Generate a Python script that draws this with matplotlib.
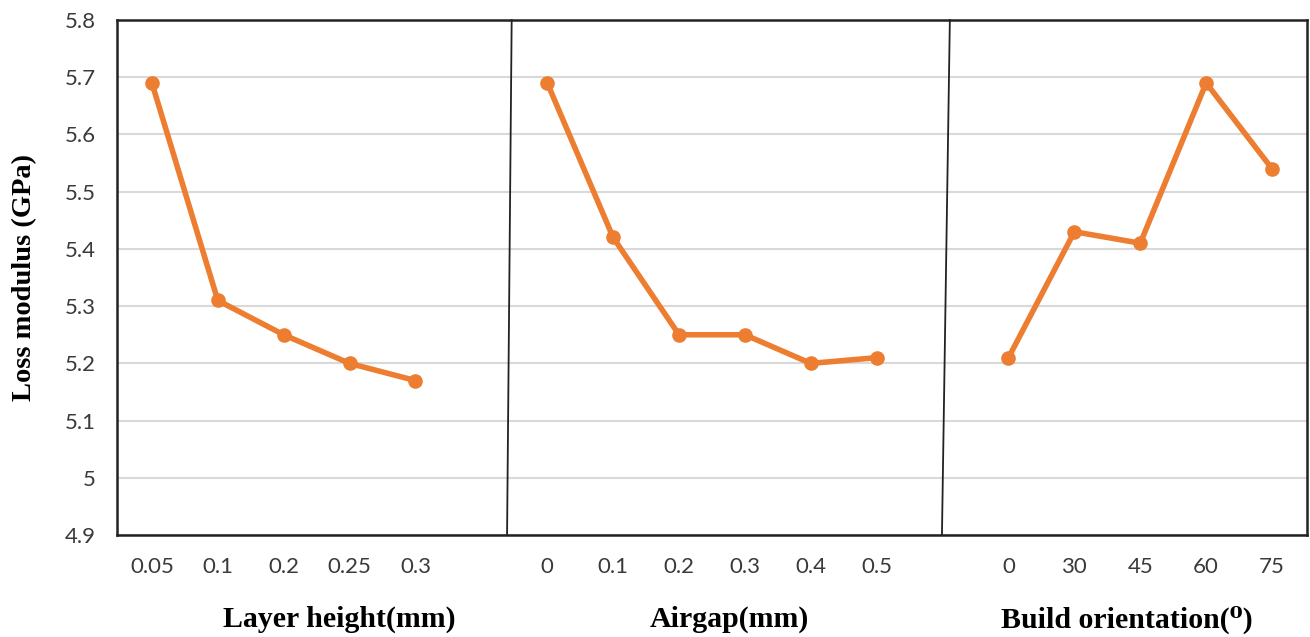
import matplotlib.pyplot as plt
import numpy as np

# factor levels (tick labels) and loss modulus values per factor
layer_height = ["0.05", "0.1", "0.2", "0.25", "0.3"]
layer_vals = [5.69, 5.31, 5.25, 5.20, 5.17]
airgap = ["0", "0.1", "0.2", "0.3", "0.4", "0.5"]
airgap_vals = [5.69, 5.42, 5.25, 5.25, 5.20, 5.21]
orientation = ["0", "30", "45", "60", "75"]
orient_vals = [5.21, 5.43, 5.41, 5.69, 5.54]
group_titles = ["Layer height(mm)", "Airgap(mm)", "Build orientation(\u2070)"]

orange = "#ED7D31"

fig = plt.figure(figsize=(13.1, 6.37), dpi=100)
ax = fig.add_axes([0.0893, 0.160, 0.9084, 0.8086])

groups = [(layer_height, layer_vals), (airgap, airgap_vals), (orientation, orient_vals)]
ticks, labels, starts = [], [], []
pos = 0
for cats, vals in groups:
    x = np.arange(pos, pos + len(cats))
    ax.plot(x, vals, color=orange, lw=4, marker="o", ms=9.5, zorder=3,
            solid_capstyle="round")
    ticks += list(x)
    labels += cats
    starts.append(pos)
    pos += len(cats) + 1

n = pos - 1
ax.set_xlim(-0.53, n - 0.47)
ax.set_ylim(4.9, 5.8)
ax.set_yticks(np.arange(4.9, 5.81, 0.1))
ax.set_yticklabels(["4.9", "5", "5.1", "5.2", "5.3", "5.4", "5.5", "5.6", "5.7", "5.8"])
ax.set_xticks(ticks)
ax.set_xticklabels(labels)
ax.tick_params(length=0, labelsize=16, colors="#3a3a3a")
ax.tick_params(axis="y", pad=15)
ax.tick_params(axis="x", pad=16)
for lab in ax.get_xticklabels() + ax.get_yticklabels():
    lab.set_fontfamily("Lato")

ax.yaxis.grid(True, color="#d9d9d9", lw=1.5)
ax.set_axisbelow(True)
for s in ax.spines.values():
    s.set_linewidth(1.8)
    s.set_color("#222222")

# slanted separators between factor groups (hand-placed in the original)
sep_offsets = [(0.46, 0.39), (0.11, -0.01)]
for st, (top, bot) in zip(starts[1:], sep_offsets):
    xm = st - 1
    ax.plot([xm + top, xm + bot], [5.8, 4.9], color="#222222", lw=1.3,
            zorder=2, clip_on=False)

# group titles below tick labels
label_x = [2.84, 8.77, 14.8]
for gx, title in zip(label_x, group_titles):
    ax.text(gx, 4.9 - 0.148, title, ha="center", va="center",
            fontsize=21.5, fontweight="bold",
            family=["Liberation Serif", "DejaVu Serif"])

fig.text(0.019, 0.565, "Loss modulus (GPa)", rotation=90, ha="center",
         va="center", fontsize=20.5, fontweight="bold", family="Liberation Serif")

fig.savefig("out.png", dpi=100)
